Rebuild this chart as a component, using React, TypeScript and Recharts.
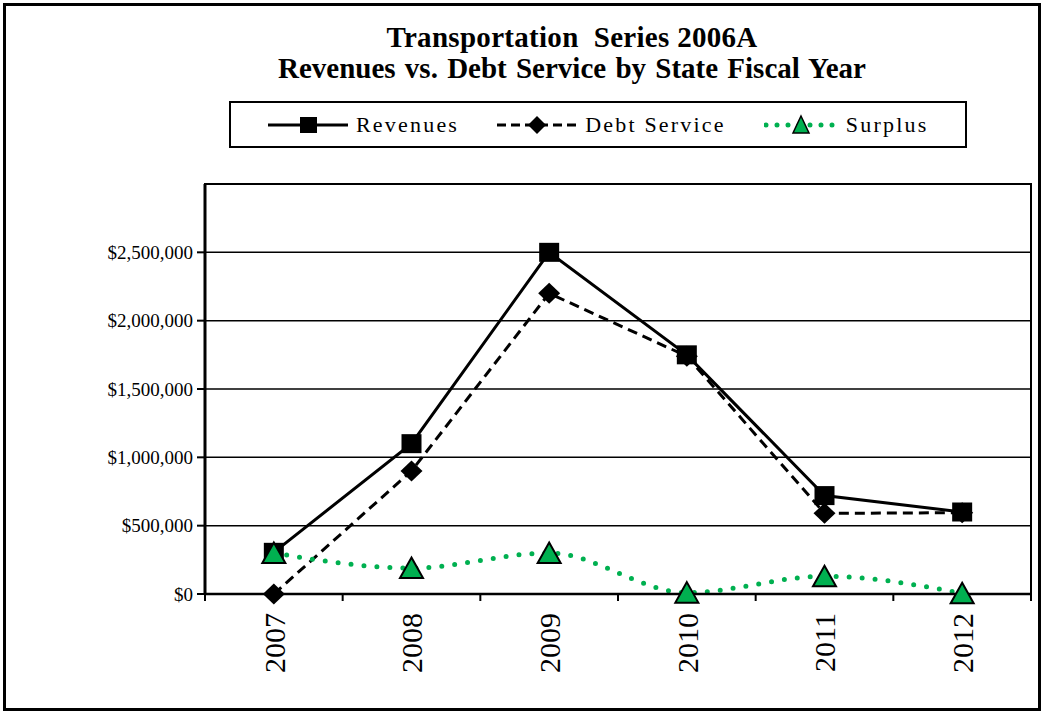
import React from 'react';
import { LineChart, Line, XAxis, YAxis, CartesianGrid, Legend, ReferenceArea } from 'recharts';

const years = ['2007', '2008', '2009', '2010', '2011', '2012'];
const revenues = [305000, 1100000, 2500000, 1750000, 720000, 600000];
const debtService = [0, 900000, 2200000, 1740000, 590000, 595000];
const surplus = [300000, 190000, 300000, 10000, 130000, 5000];
const yTicks = [0, 500000, 1000000, 1500000, 2000000, 2500000];
const titleLines = ['Transportation  Series 2006A', 'Revenues vs. Debt Service by State Fiscal Year'];

const data = years.map((year, i) => ({
  year,
  revenues: revenues[i],
  debt: debtService[i],
  surplus: surplus[i],
}));

const GREEN = '#00B050';
const SERIF = '"Liberation Serif", "Times New Roman", serif';
const X_TICK_SIZE = 7;
const X_TICK_MARGIN = 12;

const SquareDot = (props: any) => {
  const { cx, cy, index } = props;
  if (cx == null || cy == null) return <g key={`sq-${index}`} />;
  return <rect key={`sq-${index}`} x={cx - 10} y={cy - 9.5} width={20} height={19} fill="#000" />;
};

const DiamondDot = (props: any) => {
  const { cx, cy, index } = props;
  if (cx == null || cy == null) return <g key={`dm-${index}`} />;
  return (
    <polygon
      key={`dm-${index}`}
      points={`${cx},${cy - 10.5} ${cx + 11},${cy} ${cx},${cy + 10.5} ${cx - 11},${cy}`}
      fill="#000"
    />
  );
};

const TriangleDot = (props: any) => {
  const { cx, cy, index } = props;
  if (cx == null || cy == null) return <g key={`tr-${index}`} />;
  return (
    <polygon
      key={`tr-${index}`}
      points={`${cx},${cy - 10.5} ${cx + 11.5},${cy + 10} ${cx - 11.5},${cy + 10}`}
      fill={GREEN}
      stroke="#000"
      strokeWidth={2}
    />
  );
};

// year label at the band centre, tick marks at the band edges (Excel style)
const YearTick = (props: any) => {
  const { x, y, payload, width, index } = props;
  const half = width / years.length / 2;
  const axisY = y - X_TICK_SIZE - X_TICK_MARGIN;
  return (
    <g>
      <line x1={x - half} y1={axisY} x2={x - half} y2={axisY + X_TICK_SIZE} stroke="#000" strokeWidth={2} />
      {index === years.length - 1 && (
        <line x1={x + half} y1={axisY} x2={x + half} y2={axisY + X_TICK_SIZE} stroke="#000" strokeWidth={2} />
      )}
      <text
        x={x}
        y={y}
        dy="0.36em"
        transform={`rotate(-90 ${x} ${y})`}
        textAnchor="end"
        fontFamily={SERIF}
        fontSize={30}
        fill="#000"
      >
        {payload.value}
      </text>
    </g>
  );
};

const legendIcon = (key: string) => {
  if (key === 'revenues') {
    return (
      <svg width={80} height={24}>
        <line x1={0} y1={12} x2={80} y2={12} stroke="#000" strokeWidth={3} />
        <rect x={32} y={4} width={17} height={16} fill="#000" />
      </svg>
    );
  }
  if (key === 'debt') {
    return (
      <svg width={80} height={24}>
        <line x1={0} y1={12} x2={80} y2={12} stroke="#000" strokeWidth={3} strokeDasharray="9 5" />
        <polygon points="40,3 49,12 40,21 31,12" fill="#000" />
      </svg>
    );
  }
  return (
    <svg width={74} height={24}>
      <line x1={2} y1={12} x2={74} y2={12} stroke={GREEN} strokeWidth={5} strokeDasharray="0 11" strokeLinecap="round" />
      <polygon points="37,3 45,20 29,20" fill={GREEN} stroke="#000" strokeWidth={1.5} />
    </svg>
  );
};

const legendOrder = ['revenues', 'debt', 'surplus'];

const renderLegend = (props: any) => {
  const payload = props.payload || [];
  const items = legendOrder
    .map((k) => payload.find((p: any) => p.dataKey === k))
    .filter(Boolean);
  return (
    <div
      style={{
        boxSizing: 'border-box',
        width: 738,
        height: 47,
        border: '2px solid #000',
        display: 'flex',
        alignItems: 'center',
        paddingLeft: 37,
        fontFamily: SERIF,
        fontSize: 22,
        letterSpacing: 2.2,
        color: '#000',
        background: '#fff',
      }}
    >
      {items.map((it: any, i: number) => (
        <div key={it.dataKey} style={{ display: 'flex', alignItems: 'center', marginLeft: i === 0 ? 0 : 38 }}>
          {legendIcon(it.dataKey)}
          <span style={{ marginLeft: 8 }}>{it.value}</span>
        </div>
      ))}
    </div>
  );
};

const fmtMoney = (v: number) => `$${v.toLocaleString('en-US')}`;

export default function App() {
  return (
    <div style={{ position: 'absolute', left: 0, top: 0, width: 1044, height: 714, background: '#fff' }}>
      <LineChart width={1044} height={714} data={data} margin={{ top: 184, right: 13, bottom: 30, left: 105 }}>
        <CartesianGrid vertical={false} stroke="#000" strokeWidth={1.5} />
        <XAxis
          dataKey="year"
          scale="band"
          height={90}
          axisLine={{ stroke: '#000', strokeWidth: 2.5 }}
          tickLine={false}
          tickSize={X_TICK_SIZE}
          tickMargin={X_TICK_MARGIN}
          tick={<YearTick />}
          interval={0}
        />
        <YAxis
          width={100}
          domain={[0, 3000000]}
          ticks={yTicks}
          tickFormatter={fmtMoney}
          axisLine={{ stroke: '#000', strokeWidth: 3 }}
          tickLine={{ stroke: '#000', strokeWidth: 2 }}
          tickSize={8}
          tickMargin={4}
          tick={{ fontFamily: SERIF, fontSize: 19, fill: '#000' }}
        />
        <ReferenceArea y1={0} y2={3000000} fill="none" stroke="#000" strokeWidth={2} ifOverflow="visible" />
        <Legend
          verticalAlign="middle"
          align="center"
          layout="horizontal"
          content={renderLegend}
          wrapperStyle={{ top: 101, left: 229, width: 738, height: 47 }}
        />
        <Line
          dataKey="debt"
          name="Debt Service"
          stroke="#000"
          strokeWidth={3}
          strokeDasharray="10 6"
          dot={DiamondDot}
          activeDot={false}
          isAnimationActive={false}
        />
        <Line
          dataKey="revenues"
          name="Revenues"
          stroke="#000"
          strokeWidth={3}
          dot={SquareDot}
          activeDot={false}
          isAnimationActive={false}
        />
        <Line
          type="monotone"
          dataKey="surplus"
          name="Surplus"
          stroke={GREEN}
          strokeWidth={5}
          strokeDasharray="0 13"
          strokeLinecap="round"
          dot={TriangleDot}
          activeDot={false}
          isAnimationActive={false}
        />
      </LineChart>
      <div
        style={{
          position: 'absolute',
          left: 272,
          top: 22,
          width: 600,
          textAlign: 'center',
          fontFamily: SERIF,
          fontWeight: 'bold',
          fontSize: 29,
          lineHeight: '31px',
          whiteSpace: 'pre',
          color: '#000',
        }}
      >
        <div style={{ letterSpacing: 0.3 }}>{titleLines[0]}</div>
        <div style={{ wordSpacing: 2 }}>{titleLines[1]}</div>
      </div>
      <div
        style={{
          position: 'absolute',
          left: 3,
          top: 3,
          width: 1038,
          height: 708,
          border: '3px solid #000',
          boxSizing: 'border-box',
          pointerEvents: 'none',
        }}
      />
    </div>
  );
}
